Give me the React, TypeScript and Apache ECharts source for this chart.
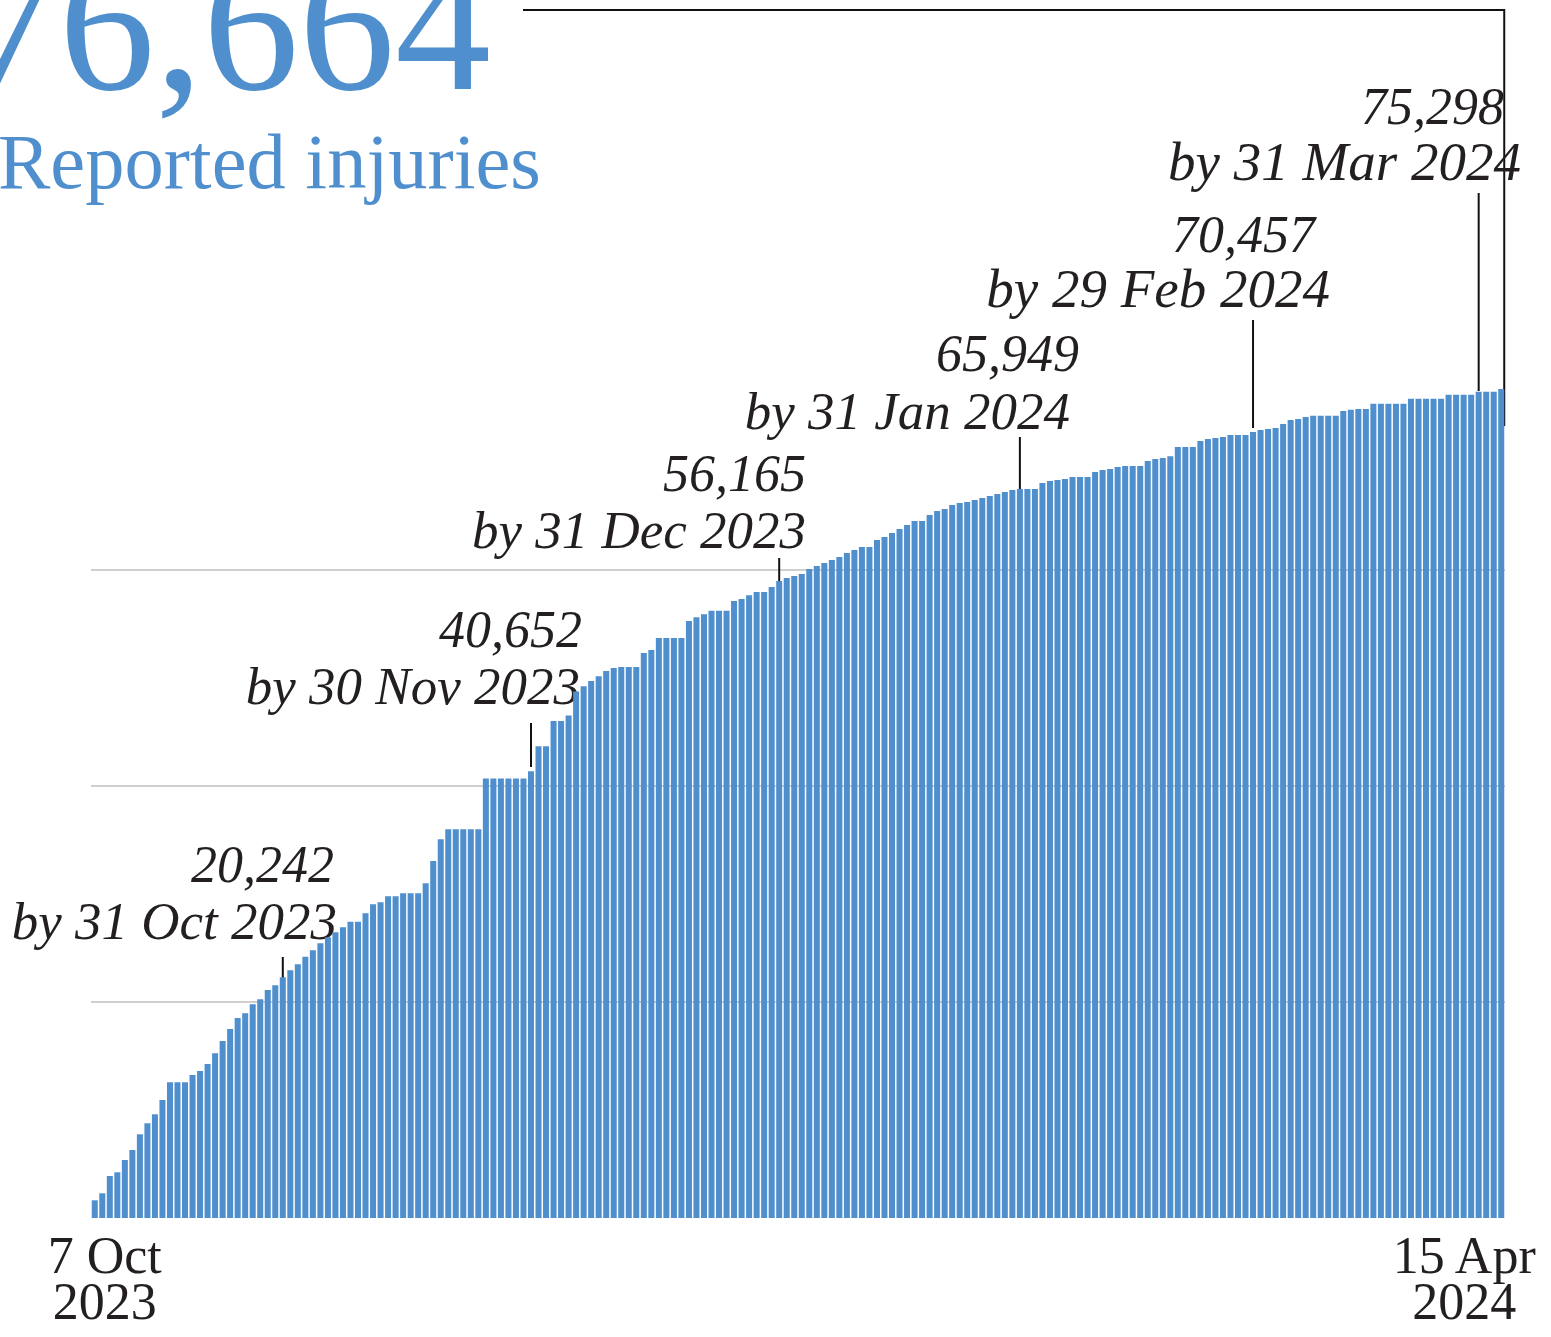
import React, { useEffect, useRef } from "react";
import * as echarts from "echarts";

// Cumulative reported injuries, one bar per report
const injuries = [
  1637, 2285, 3885, 4227, 5365, 6290, 7742, 8760, 9592, 10915,
  12552, 12552, 12552, 13228, 13598, 14245, 15235, 16373, 17483, 18500,
  18935, 19767, 20242, 21090, 21525, 22265, 22912, 23467, 24170, 24762,
  25410, 25965, 26427, 26890, 27408, 27408, 28185, 29017, 29202, 29757,
  29757, 30035, 30035, 30035, 30960, 33022, 35030, 35955, 35955, 35955,
  35955, 35955, 40652, 40652, 40652, 40652, 40652, 40652, 41320, 43632,
  43632, 45972, 45972, 46463, 48683, 49182, 49672, 50107, 50597, 50875,
  50967, 50967, 50967, 52262, 52540, 53650, 53650, 53650, 53650, 55222,
  55565, 55842, 56165, 56165, 56165, 57072, 57257, 57600, 57905, 57905,
  58367, 58922, 59200, 59385, 59570, 60032, 60310, 60587, 60865, 61142,
  61512, 61790, 62067, 62067, 62715, 62992, 63362, 63732, 64102, 64472,
  64472, 65027, 65397, 65582, 65949, 66137, 66230, 66415, 66600, 66785,
  66970, 67155, 67340, 67432, 67432, 67432, 67987, 68172, 68265, 68357,
  68542, 68542, 68542, 69005, 69190, 69282, 69467, 69560, 69560, 69560,
  70022, 70207, 70300, 70457, 71317, 71317, 71317, 71872, 72057, 72150,
  72242, 72427, 72427, 72427, 72705, 72890, 72982, 73075, 73445, 73815,
  73907, 74092, 74185, 74185, 74185, 74185, 74647, 74740, 74832, 74832,
  75298, 75298, 75298, 75298, 75298, 75760, 75760, 75760, 75760, 75760,
  76130, 76130, 76130, 76130, 76410, 76410, 76410, 76664,
];
const categories = injuries.map((_, i) => `Report ${i + 1}`);

const yMin = 0;
const yMax = 80000;
const yInterval = 20000;

const headlineValue = "76,664";
const headlineLabel = "Reported injuries";

const xEndLabels = ["7 Oct\n2023", "15 Apr\n2024"];

const annotationValues = ["20,242", "40,652", "56,165", "65,949", "70,457", "75,298"];
const annotationDates = [
  "by 31 Oct 2023",
  "by 30 Nov 2023",
  "by 31 Dec 2023",
  "by 31 Jan 2024",
  "by 29 Feb 2024",
  "by 31 Mar 2024",
];
const annotationBars = [25, 58, 91, 123, 154, 184];

// ---- layout (pixels) ----
const W = 1551;
const H = 1337;
const SERIF = "'Liberation Serif', 'Times New Roman', Times, serif";
const BLUE = "#4f8fcd";
const INK = "#231f20";
const CENTRAL = 0.33;

const annotationLayout = [
  { valueRight: 334, valueBase: 882, dateRight: 337, dateBase: 938, dateSize: 53, tickTop: 957, tickBottom: 993 },
  { valueRight: 582, valueBase: 647, dateRight: 580, dateBase: 703, dateSize: 53, tickTop: 723, tickBottom: 767 },
  { valueRight: 806, valueBase: 491, dateRight: 806, dateBase: 547, dateSize: 53, tickTop: 558, tickBottom: 594 },
  { valueRight: 1079, valueBase: 371, dateRight: 1070, dateBase: 428, dateSize: 53, tickTop: 437, tickBottom: 492 },
  { valueRight: 1315, valueBase: 252, dateRight: 1330, dateBase: 307, dateSize: 55, tickTop: 320, tickBottom: 428 },
  { valueRight: 1504, valueBase: 124, dateRight: 1521, dateBase: 180, dateSize: 55, tickTop: 193, tickBottom: 391 },
];

function textEl(
  text: string,
  x: number,
  baseline: number,
  size: number,
  fill: string,
  align: string,
  italic = false
) {
  return {
    type: "text",
    x,
    y: baseline - CENTRAL * size,
    silent: true,
    style: {
      text,
      fontSize: size,
      fontFamily: SERIF,
      fontStyle: italic ? "italic" : "normal",
      fill,
      align,
      verticalAlign: "middle",
    },
  };
}

export default function App() {
  const ref = useRef<HTMLDivElement>(null);

  useEffect(() => {
    document.body.style.margin = "0";
    const chart = echarts.init(ref.current!, null, { renderer: "svg" });
    chart.setOption({
      animation: false,
      backgroundColor: "#ffffff",
      grid: { left: 91, right: 46, top: 353, bottom: 119, containLabel: false },
      xAxis: {
        type: "category",
        data: categories,
        axisLine: { show: false },
        axisTick: { show: false },
        axisLabel: { show: false },
        splitLine: { show: false },
      },
      yAxis: {
        type: "value",
        min: yMin,
        max: yMax,
        interval: yInterval,
        axisLine: { show: false },
        axisTick: { show: false },
        axisLabel: { show: false },
        splitLine: {
          show: true,
          showMinLine: false,
          showMaxLine: false,
          lineStyle: { color: "#cfcfcf", width: 2 },
        },
      },
      series: [
        {
          type: "bar",
          data: injuries,
          barCategoryGap: "20%",
          itemStyle: { color: BLUE },
          silent: true,
        },
      ],
    });

    const px = (idx: number) =>
      (chart.convertToPixel({ gridIndex: 0 }, [idx, 0]) as number[])[0];

    const graphics: any[] = [];
    // headline
    graphics.push(textEl(headlineValue, -37, 88, 192, BLUE, "left"));
    graphics.push(textEl(headlineLabel, -2, 187, 78.5, BLUE, "left"));

    // connector from headline to final bar
    const lastX = px(injuries.length - 1) + 3;
    graphics.push({
      type: "polyline",
      silent: true,
      shape: { points: [[523, 10], [lastX, 10], [lastX, 426]] },
      style: { stroke: "#111", lineWidth: 2, fill: "none" },
    });

    // annotations
    annotationBars.forEach((bar, i) => {
      const L = annotationLayout[i];
      const x = px(bar);
      graphics.push({
        type: "line",
        silent: true,
        shape: { x1: x, y1: L.tickTop, x2: x, y2: L.tickBottom },
        style: { stroke: "#111", lineWidth: 2 },
      });
      graphics.push(textEl(annotationValues[i], L.valueRight, L.valueBase, 52, INK, "right", true));
      graphics.push(textEl(annotationDates[i], L.dateRight, L.dateBase, L.dateSize, INK, "right", true));
    });

    // x end labels (two lines each, line pitch 46px)
    const labelSize = 52;
    const lineH = 46;
    const firstBaseline = 1273;
    const blockCenter = firstBaseline - CENTRAL * labelSize + lineH / 2;
    const labelXs = [px(0) + 10, px(injuries.length - 1) - 37];
    labelXs.forEach((x, i) => {
      graphics.push({
        type: "text",
        x,
        y: blockCenter,
        silent: true,
        style: {
          text: xEndLabels[i],
          fontSize: labelSize,
          lineHeight: lineH,
          fontFamily: SERIF,
          fill: INK,
          align: "center",
          verticalAlign: "middle",
        },
      });
    });

    chart.setOption({ graphic: graphics });

    return () => chart.dispose();
  }, []);

  return (
    <div
      ref={ref}
      style={{ position: "absolute", left: 0, top: 0, width: W, height: H }}
    />
  );
}
